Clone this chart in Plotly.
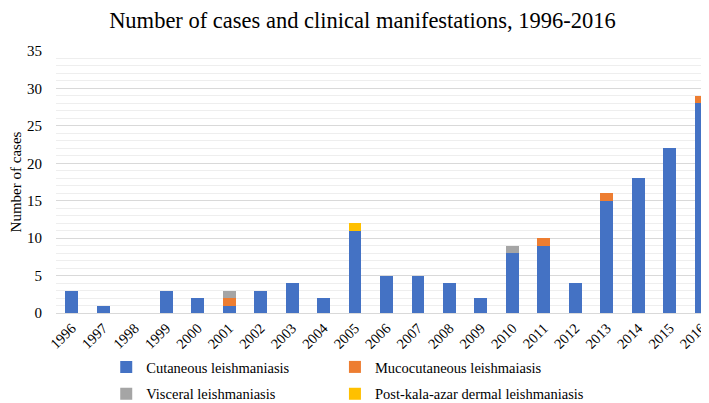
import plotly.graph_objects as go

years = [str(y) for y in range(1996, 2017)]
cutaneous = [3, 1, 0, 3, 2, 1, 3, 4, 2, 11, 5, 5, 4, 2, 8, 9, 4, 15, 18, 22, 28]
mucocutaneous = [0, 0, 0, 0, 0, 1, 0, 0, 0, 0, 0, 0, 0, 0, 0, 1, 0, 1, 0, 0, 1]
visceral = [0, 0, 0, 0, 0, 1, 0, 0, 0, 0, 0, 0, 0, 0, 1, 0, 0, 0, 0, 0, 0]
pkdl = [0, 0, 0, 0, 0, 0, 0, 0, 0, 1, 0, 0, 0, 0, 0, 0, 0, 0, 0, 0, 0]

series = [
    ("Cutaneous leishmaniasis", cutaneous, "#4472C4", "legend"),
    ("Mucocutaneous leishmaiasis", mucocutaneous, "#ED7D31", "legend2"),
    ("Visceral leishmaniasis", visceral, "#A5A5A5", "legend"),
    ("Post-kala-azar dermal leishmaniasis", pkdl, "#FFC000", "legend2"),
]

fig = go.Figure()
for i, (name, vals, col, leg) in enumerate(series):
    fig.add_trace(go.Bar(x=years, y=vals, name=name, marker_color=col,
                         marker_line_width=0, legend=leg, legendgroup=f"g{i}"))

font = "Liberation Serif"
legend_common = dict(orientation="v", yanchor="top", traceorder="grouped",
                     font=dict(family=font, size=14.5, color="#000"),
                     itemwidth=30, tracegroupgap=5, bgcolor="rgba(0,0,0,0)")
fig.update_layout(
    barmode="stack",
    bargap=0.59,
    width=709, height=403,
    margin=dict(l=48, r=0, t=43, b=98, autoexpand=False),
    paper_bgcolor="white", plot_bgcolor="white",
    font=dict(family=font, size=15, color="#000"),
    title=dict(text="Number of cases and clinical manifestations, 1996-2016",
               x=0.5, xanchor="center", y=0.99, yanchor="top",
               font=dict(family=font, size=22.5, color="#000")),
    xaxis=dict(tickangle=-45, tickfont=dict(family=font, size=14.5),
               showline=True, linecolor="#d9d9d9", ticks=""),
    yaxis=dict(range=[0, 35], dtick=5, tickfont=dict(family=font, size=15),
               showgrid=True, gridcolor="#d9d9d9", gridwidth=1,
               minor=dict(dtick=1, showgrid=True, gridcolor="#eeeeee", gridwidth=1),
               zeroline=False, ticks="", ticklabelstandoff=13,
               title=dict(text="Number of cases", font=dict(family=font, size=15),
                          standoff=4)),
    legend=dict(x=0.076, y=-0.145, **legend_common),
    legend2=dict(x=0.422, y=-0.145, **legend_common),
)
fig.write_html("out.html")
